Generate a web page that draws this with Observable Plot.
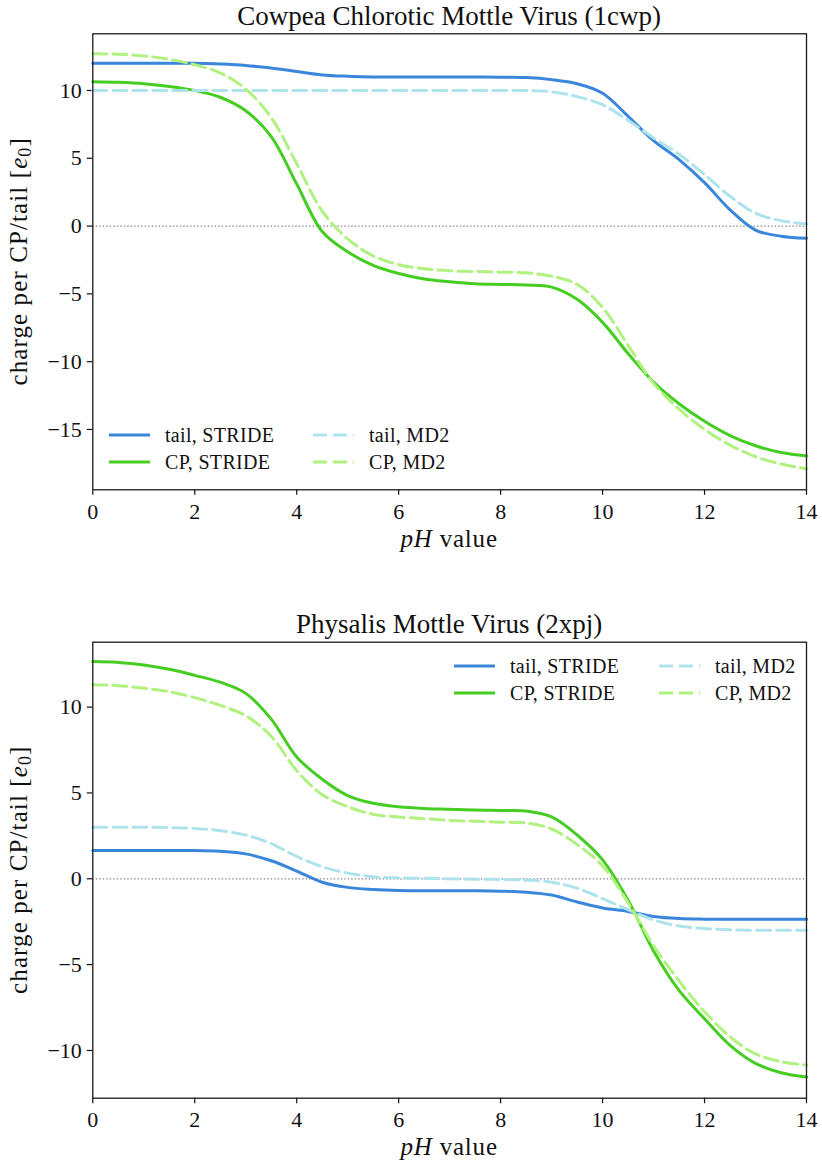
<!DOCTYPE html>
<html><head><meta charset="utf-8">
<script src="https://cdn.jsdelivr.net/npm/d3@7"></script>
<script src="https://cdn.jsdelivr.net/npm/@observablehq/plot@0.6"></script>
<style>
body{margin:0;background:#fff;}
#wrap{position:relative;width:822px;height:1162px;overflow:hidden;background:#fff;}
#wrap svg{position:absolute;left:0;}
</style></head><body><div id="wrap"></div>
<script>
// ---- data ----
const pH = [0,0.5,1,1.5,2,2.5,3,3.5,4,4.5,5,5.5,6,6.5,7,7.5,8,8.5,9,9.5,10,10.5,11,11.5,12,12.5,13,13.5,14];

const ccmvTailStride = [12.0,12.0,12.0,12.0,12.0,11.95,11.85,11.65,11.4,11.15,11.05,11.0,11.0,11.0,11.0,11.0,10.98,10.95,10.8,10.5,9.8,8.1,6.3,4.9,3.2,1.2,-0.3,-0.75,-0.9];
const ccmvCPStride   = [10.65,10.6,10.5,10.3,10.0,9.5,8.5,6.6,3.1,-0.4,-1.9,-2.9,-3.5,-3.9,-4.1,-4.25,-4.3,-4.35,-4.5,-5.4,-7.1,-9.4,-11.5,-13.1,-14.4,-15.45,-16.2,-16.7,-16.95];
const ccmvTailMD2    = [10,10,10,10,10,10,10,10,10,10,10,10,10,10,10,10,10,10,9.9,9.55,8.95,7.8,6.5,5.3,3.8,2.2,0.95,0.4,0.15];
const ccmvCPMD2      = [12.7,12.68,12.55,12.3,11.9,11.3,10.1,8.0,4.6,1.1,-0.95,-2.2,-2.85,-3.15,-3.3,-3.35,-3.4,-3.45,-3.7,-4.3,-6.0,-8.8,-11.6,-13.5,-15.0,-16.15,-17.0,-17.55,-17.9];

const phmvTailStride = [1.65,1.65,1.65,1.65,1.65,1.6,1.45,1.05,0.45,-0.2,-0.5,-0.62,-0.68,-0.7,-0.7,-0.7,-0.72,-0.78,-0.95,-1.35,-1.7,-1.9,-2.2,-2.32,-2.35,-2.35,-2.35,-2.35,-2.35];
const phmvCPStride   = [12.65,12.6,12.45,12.2,11.85,11.45,10.8,9.3,7.1,5.8,4.85,4.4,4.2,4.1,4.05,4.0,3.98,3.95,3.6,2.55,1.1,-1.25,-4.2,-6.5,-8.15,-9.7,-10.75,-11.3,-11.55];
const phmvTailMD2    = [3.0,3.0,3.0,2.98,2.93,2.8,2.55,2.05,1.3,0.7,0.33,0.12,0.05,0.03,0.0,-0.02,-0.04,-0.08,-0.2,-0.55,-1.15,-1.8,-2.4,-2.75,-2.9,-2.97,-3.0,-3.0,-3.0];
const phmvCPMD2      = [11.3,11.25,11.1,10.9,10.55,10.1,9.5,8.3,6.3,4.9,4.2,3.75,3.6,3.5,3.4,3.35,3.3,3.25,2.9,2.0,0.75,-1.4,-3.9,-5.95,-7.75,-9.2,-10.2,-10.65,-10.85];

const seriesNames  = ["tail, STRIDE", "CP, STRIDE", "tail, MD2", "CP, MD2"];
const seriesColors = ["#3a86db", "#46cd22", "#afe3ec", "#b0f17f"];
const seriesDashes = [null, null, "14,6", "14,6"];

const xTicks = [0,2,4,6,8,10,12,14];
const ccmvYTicks = [-15,-10,-5,0,5,10];
const phmvYTicks = [-10,-5,0,5,10];

const titles = ["Cowpea Chlorotic Mottle Virus (1cwp)", "Physalis Mottle Virus (2xpj)"];

// ---- drawing ----
const FONT = "'Liberation Serif', 'Times New Roman', serif";
const W = 822, ML = 92.3, MR = 16;

function panel(opt) {
  const {title, series, yDomain, yTicks, top, height, marginTop, marginBottom, legend} = opt;
  const marks = [
    Plot.ruleY([0], {stroke: "#7a7a7a", strokeWidth: 1.3, strokeDasharray: "1.3,2.2"}),
    Plot.axisX({ticks: xTicks, tickSize: 5.5, tickPadding: 7.7, label: null, strokeWidth: 1.2, fontSize: 22}),
    Plot.axisY({ticks: yTicks, tickSize: 5.5, tickPadding: 5.5, label: null, strokeWidth: 1.2, fontSize: 22})
  ];
  series.forEach((vals, k) => {
    const rows = pH.map((x, i) => ({pH: x, v: vals[i]}));
    marks.push(Plot.line(rows, {
      x: "pH", y: "v", stroke: seriesColors[k], strokeWidth: 3,
      strokeDasharray: seriesDashes[k] || undefined, curve: "catmull-rom"
    }));
  });
  marks.push(Plot.frame({stroke: "#1a1a1a", strokeWidth: 1.3}));
  const svg = Plot.plot({
    width: W, height, marginLeft: ML, marginRight: MR, marginTop, marginBottom,
    x: {domain: [0, 14]},
    y: {domain: yDomain},
    style: {fontFamily: FONT, fontSize: "22px", color: "#111", background: "white", overflow: "visible"},
    marks
  });
  svg.style.top = top + "px";
  document.getElementById("wrap").appendChild(svg);

  const s = d3.select(svg);
  // force serif tick labels at matplotlib-like size
  s.selectAll("text").style("font-family", FONT).style("font-size", "22px");
  s.selectAll("g").filter(function() { return (this.getAttribute("aria-label") || "").includes("tick label"); })
    .style("font-family", FONT).style("font-size", "22px");

  const cx = ML + (W - ML - MR) / 2;
  const frameBottom = height - marginBottom;
  const cy = marginTop + (frameBottom - marginTop) / 2;

  s.append("text").attr("x", cx).attr("y", marginTop - 8.3)
    .attr("text-anchor", "middle").style("font-family", FONT).style("font-size", "27px")
    .attr("fill", "#111").text(title);

  const xl = s.append("text").attr("x", cx).attr("y", frameBottom + 57.4)
    .attr("text-anchor", "middle").style("font-family", FONT).style("font-size", "25px")
    .attr("letter-spacing", 0.8).attr("fill", "#111");
  xl.append("tspan").attr("font-style", "italic").text("pH");
  xl.append("tspan").text(" value");

  const yl = s.append("text").attr("transform", `translate(27,${cy}) rotate(-90)`)
    .attr("text-anchor", "middle").style("font-family", FONT).style("font-size", "25px")
    .attr("letter-spacing", 1.1).attr("fill", "#111");
  yl.append("tspan").text("charge per CP/tail [");
  yl.append("tspan").attr("font-style", "italic").text("e");
  yl.append("tspan").style("font-size", "18px").attr("dy", 4).text("0");
  yl.append("tspan").attr("dy", -4).text("]");

  const g = s.append("g");
  seriesNames.forEach((name, k) => {
    const col = Math.floor(k / 2), row = k % 2;
    const lx = legend.cols[col], ly = legend.rows[row] - top;
    g.append("line").attr("x1", lx).attr("x2", lx + 41).attr("y1", ly).attr("y2", ly)
      .attr("stroke", seriesColors[k]).attr("stroke-width", 3)
      .attr("stroke-dasharray", seriesDashes[k]);
    g.append("text").attr("x", lx + 56).attr("y", ly).attr("dy", "0.35em")
      .attr("text-anchor", "start").attr("letter-spacing", 0.3)
      .style("font-family", FONT).style("font-size", "20px").attr("fill", "#111").text(name);
  });
}

panel({
  title: titles[0],
  series: [ccmvTailStride, ccmvCPStride, ccmvTailMD2, ccmvCPMD2],
  yDomain: [-19.45, 14.18], yTicks: ccmvYTicks,
  top: 0, height: 560, marginTop: 33.3, marginBottom: 560 - 489.3,
  legend: {cols: [109, 313], rows: [435, 462]}
});
panel({
  title: titles[1],
  series: [phmvTailStride, phmvCPStride, phmvTailMD2, phmvCPMD2],
  yDomain: [-12.78, 13.78], yTicks: phmvYTicks,
  top: 600, height: 562, marginTop: 41.7, marginBottom: 1162 - 1097.7,
  legend: {cols: [454, 659], rows: [666, 693]}
});
</script>
</body></html>
